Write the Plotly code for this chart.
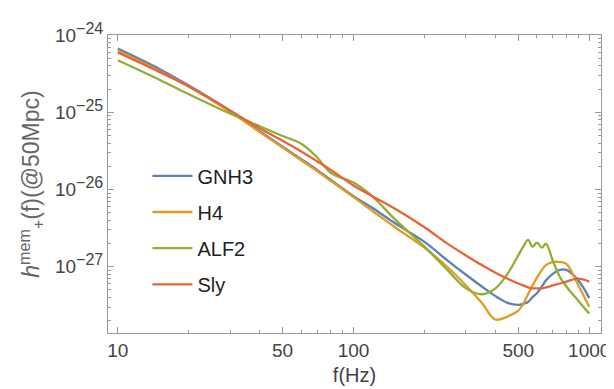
import plotly.graph_objects as go

# ---- data ----
freq_hz = [10, 15, 20, 30, 40, 50, 60, 70, 80, 100, 120, 150, 200, 250, 300,
           350, 400, 450, 500, 525, 550, 575, 600, 630, 655, 700, 750, 800, 900, 1000]

gnh3 = [6.7e-25, 3.65e-25, 2.23e-25, 1.05e-25, 5.72e-26, 3.6e-26, 2.47e-26, 1.8e-26,
        1.34e-26, 8.21e-27, 5.8e-27, 3.65e-27, 2.1e-27, 1.21e-27, 7.86e-28, 5.55e-28,
        4.16e-28, 3.4e-28, 3.2e-28, 3.3e-28, 3.49e-28, 4.04e-28, 4.54e-28, 5.55e-28,
        6.61e-28, 8.09e-28, 9.09e-28, 9.09e-28, 6.61e-28, 3.92e-28]

h4 = [6.33e-25, 3.44e-25, 2.17e-25, 1.02e-25, 5.55e-26, 3.49e-26, 2.4e-26, 1.74e-26,
      1.3e-26, 7.98e-27, 5.32e-27, 3.25e-27, 1.77e-27, 9.91e-28, 5.72e-28, 3.4e-28,
      2.07e-28, 2.26e-28, 2.69e-28, 3.3e-28, 4.4e-28, 5.72e-28, 7.21e-28, 9.09e-28,
      1.05e-27, 1.15e-27, 1.15e-27, 1.09e-27, 5.72e-28, 3.02e-28]

alf2 = [4.74e-25, 2.65e-25, 1.72e-25, 9.63e-26, 6.61e-26, 4.95e-26, 3.92e-26, 2.62e-26,
        1.65e-26, 1.23e-26, 8.21e-27, 4.1e-27, 1.82e-27, 9.09e-28, 5.24e-28, 4.4e-28,
        5.24e-28, 8.09e-28, 1.4e-27, 1.82e-27, 2.23e-27, 1.82e-27, 2.05e-27, 1.77e-27,
        1.99e-27, 1.21e-27, 7.42e-28, 5.55e-28, 3.6e-28, 2.47e-28]

sly = [5.97e-25, 3.35e-25, 2.17e-25, 1.05e-25, 6.24e-26, 4.28e-26, 3.11e-26, 2.33e-26,
       1.8e-26, 1.13e-26, 8.21e-27, 5.64e-27, 3.25e-27, 1.99e-27, 1.4e-27, 1.05e-27,
       8.33e-28, 7.0e-28, 6.06e-28, 5.72e-28, 5.4e-28, 5.24e-28, 5.24e-28, 5.24e-28,
       5.4e-28, 5.72e-28, 6.06e-28, 6.42e-28, 7.0e-28, 6.42e-28]

series_names = ["GNH3", "H4", "ALF2", "Sly"]
series_values = [gnh3, h4, alf2, sly]
colors = ["#5E81B5", "#E19C24", "#8FB032", "#EB6235"]

x_major = [10, 50, 100, 500, 1000]
x_major_text = ["10", "50", "100", "500", "1000"]
x_minor = [20, 30, 40, 60, 70, 80, 90, 200, 300, 400, 600, 700, 800, 900]
y_major = [1e-24, 1e-25, 1e-26, 1e-27]
y_exponents = ["−24", "−25", "−26", "−27"]
y_major_text = ["10<sup><span style='font-size:16px'>%s</span></sup>" % e for e in y_exponents]
y_minor = [k * 10.0 ** e for e in (-28, -27, -26, -25) for k in range(2, 10)]

FRAME = "#9a9a9a"
TICKTXT = "#444444"
FONT = "Arial"

fig = go.Figure()
for i, (name, vals, col) in enumerate(zip(series_names, series_values, colors)):
    fig.add_trace(go.Scatter(
        x=freq_hz, y=vals, mode="lines", name=name,
        line=dict(color=col, width=2.3, shape="spline", smoothing=1.0),
        legendgroup=name,
    ))

axis_common = dict(
    type="log", showgrid=False, zeroline=False,
    showline=True, linecolor=FRAME, linewidth=1, mirror="allticks",
    ticks="inside", ticklen=6, tickwidth=1, tickcolor=FRAME,
    tickfont=dict(family=FONT, size=19, color=TICKTXT),
)

fig.update_layout(
    width=614, height=389,
    margin=dict(l=100, r=12, t=18, b=64),
    paper_bgcolor="white", plot_bgcolor="white",
    font=dict(family=FONT),
    xaxis=dict(
        **axis_common,
        range=[0.9583, 3.05],
        tickvals=x_major, ticktext=x_major_text,
        minor=dict(tickvals=x_minor, ticks="inside", ticklen=3, tickcolor=FRAME, tickwidth=1),
        title=dict(text="f(Hz)", font=dict(family=FONT, size=20, color=TICKTXT), standoff=8),
    ),
    yaxis=dict(
        **axis_common,
        range=[-27.859, -23.997],
        tickvals=y_major, ticktext=y_major_text,
        minor=dict(tickvals=y_minor, ticks="inside", ticklen=3, tickcolor=FRAME, tickwidth=1),
        title=dict(text="<i>h</i><sup>mem</sup><sub>+</sub>(f)(@50Mpc)",
                   font=dict(family=FONT, size=23, color="#666666"), standoff=8),
    ),
    legend=dict(
        x=0.08, y=0.593, xanchor="left", yanchor="top",
        bgcolor="rgba(0,0,0,0)", borderwidth=0,
        font=dict(family=FONT, size=20, color="#222222"),
        tracegroupgap=7.2, itemwidth=40,
    ),
    showlegend=True,
)

fig.write_html("out.html")
